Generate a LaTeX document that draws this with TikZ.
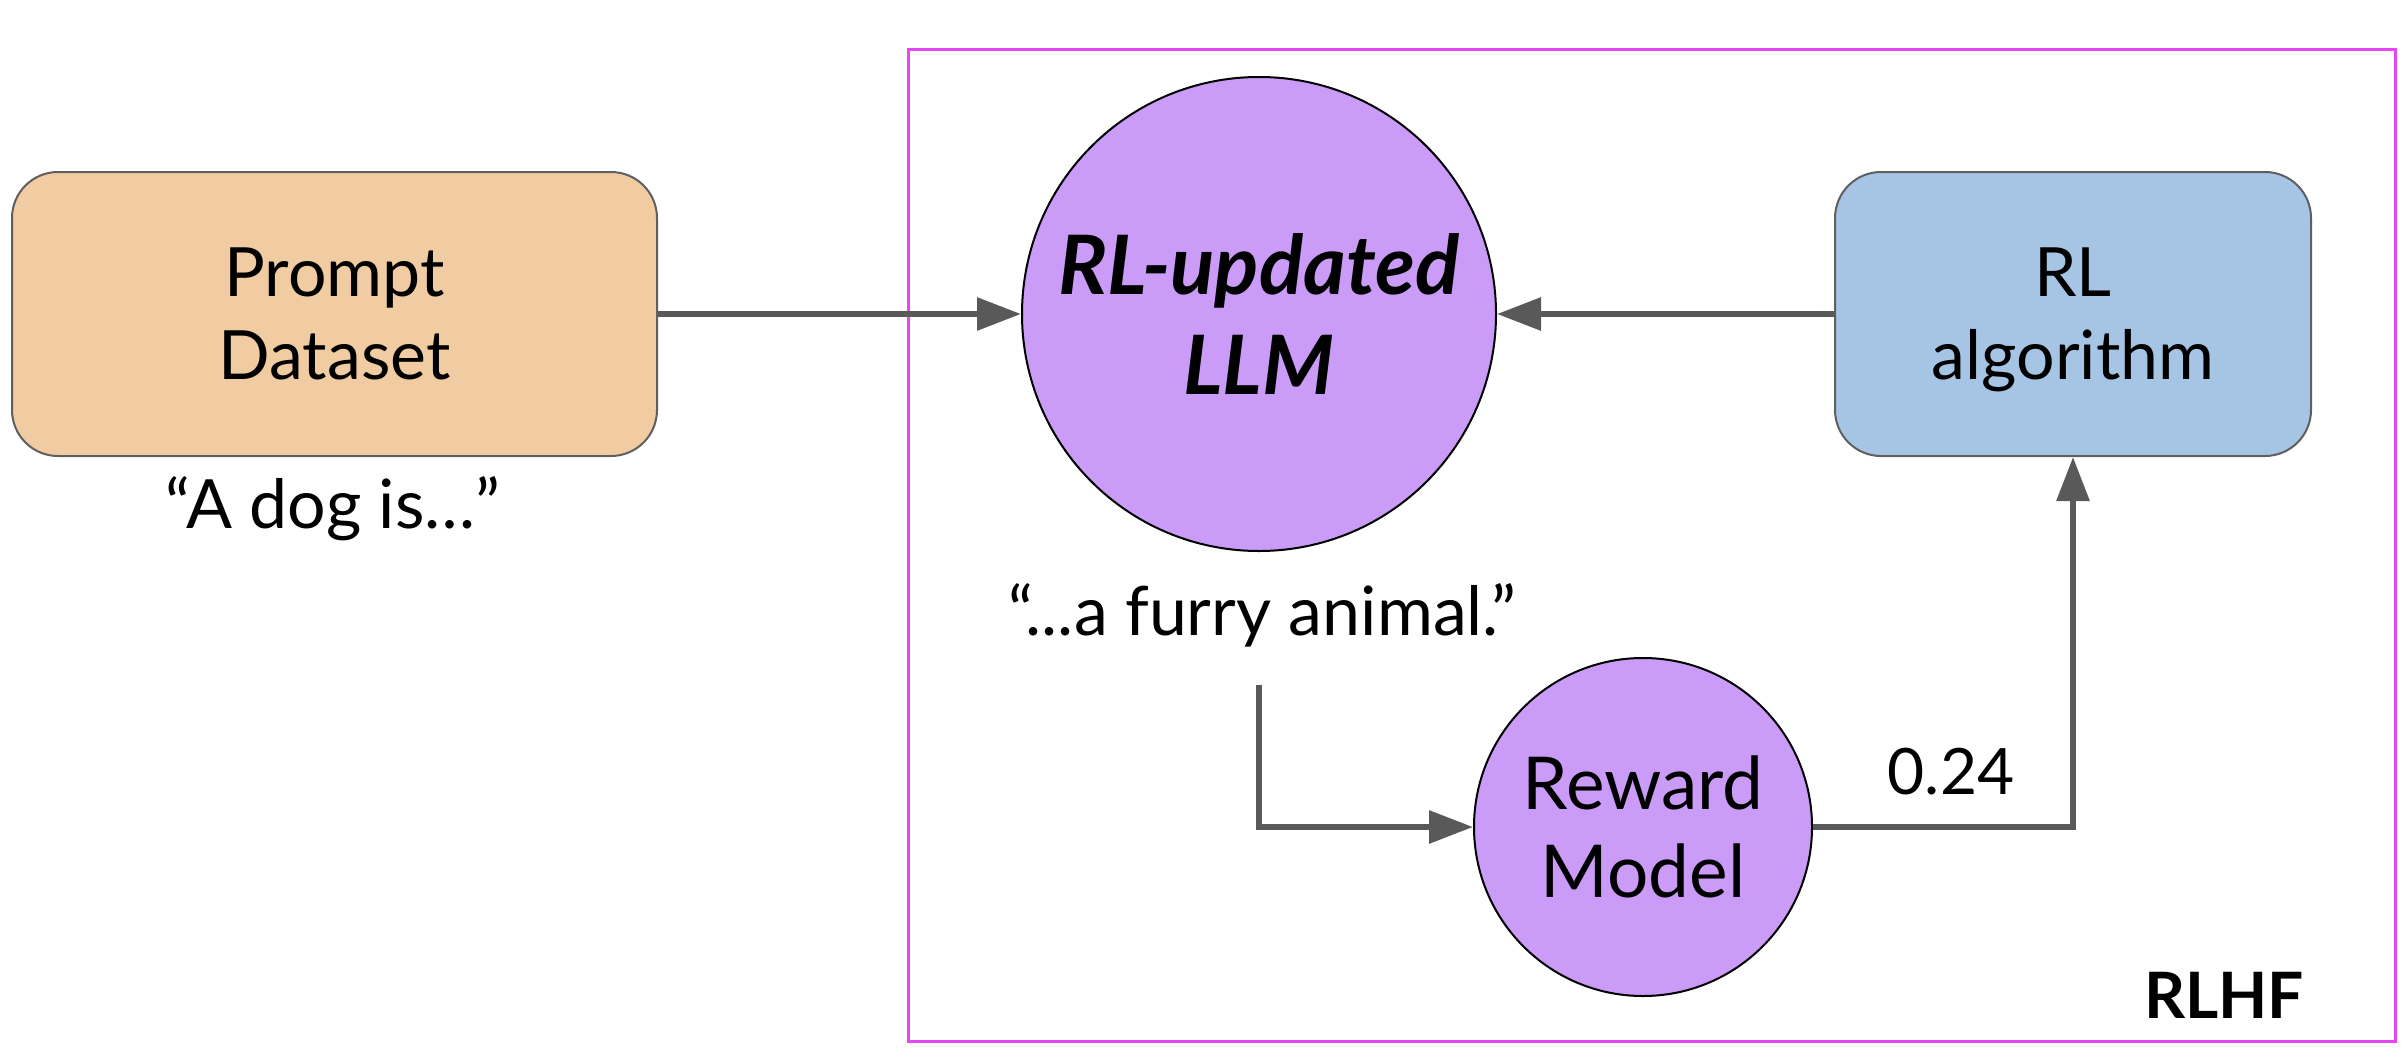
\documentclass[tikz,border=0pt]{standalone}
\usepackage{fontspec}
\setmainfont{Lato}
\usetikzlibrary{arrows.meta}

\definecolor{promptfill}{HTML}{F1CBA1}
\definecolor{algofill}{HTML}{A6C4E3}
\definecolor{modelfill}{HTML}{CA9BF7}
\definecolor{boxline}{HTML}{5F5F5F}
\definecolor{flowgray}{HTML}{595959}
\definecolor{rlhfframe}{HTML}{E845F5}

\begin{document}
\begin{tikzpicture}[
  x=1pt, y=-1pt,
  roundbox/.style={draw=boxline, line width=2pt, rounded corners=46pt,
    minimum height=284pt, inner sep=0pt, align=center,
    font=\fontsize{68}{83}\selectfont, text depth=0pt},
  modelnode/.style={circle, draw=black, line width=2pt, fill=modelfill,
    inner sep=0pt, align=center, text depth=0pt},
  caption/.style={inner sep=0pt, anchor=base, font=\fontsize{68}{83}\selectfont},
  flow/.style={draw=flowgray, line width=6pt,
    -{Triangle[length=44pt,width=32pt]}},
  link/.style={draw=flowgray, line width=6pt}
]
% canvas
\path[use as bounding box] (0,0) rectangle (2408,1060);

% RLHF frame
\draw[rlhfframe, line width=3pt] (908,49) rectangle (2395,1041);
\node[inner sep=0pt, anchor=base, font=\bfseries\fontsize{64}{76}\selectfont]
  (rlhf) at (2224,1018) {RLHF};

% main blocks
\node[roundbox, fill=promptfill, minimum width=645pt] (prompt) at (334.5,314)
  {Prompt\\Dataset};
\node[caption] (dogtext) at (333,528) {“A dog is…”};

\node[modelnode, minimum size=474pt,
  font=\bfseries\itshape\fontsize{82}{100}\selectfont] (llm) at (1259,314)
  {RL-updated\\LLM};

\node[roundbox, fill=algofill, minimum width=476pt] (algo) at (2073,314)
  {RL\\algorithm};

\node[caption, anchor=base west] (furry) at (1008,635) {“...a furry animal.”};

\node[modelnode, minimum size=338pt, font=\fontsize{73}{88}\selectfont]
  (reward) at (1643,827) {Reward\\Model};

\node[inner sep=0pt, anchor=base, font=\fontsize{64}{76}\selectfont]
  (score) at (1951,794) {0.24};

% connectors
\coordinate (furryout) at (1259,685);
\draw[flow] (prompt.east) -- (llm.west);
\draw[flow] (algo.west) -- (llm.east);
\draw[flow] (furryout) |- (reward.west);
\draw[flow] (reward.east) -| (algo.south);
\end{tikzpicture}
\end{document}
